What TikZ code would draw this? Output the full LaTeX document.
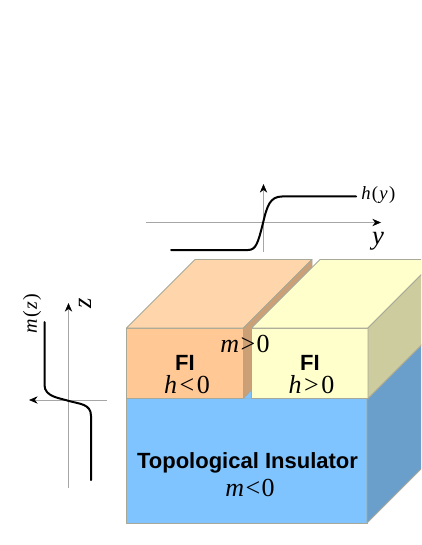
\documentclass[tikz,border=0pt]{standalone}
\usepackage{fontspec}
\setmainfont{Liberation Sans}
\newfontfamily\serifface{Liberation Serif}
\usetikzlibrary{arrows.meta,positioning,calc}
\definecolor{orangefront}{HTML}{FFC894}
\definecolor{orangetop}{HTML}{FFD5AB}
\definecolor{orangeside}{HTML}{CBA077}
\definecolor{yellowfront}{HTML}{FFFFCC}
\definecolor{yellowside}{HTML}{CCCC9F}
\definecolor{blueside}{HTML}{6A9FCB}
\definecolor{bluefront}{HTML}{80C4FF}
\definecolor{edgegray}{HTML}{A8A898}
\newcommand{\mathlabel}[1]{{\fontsize{19.5}{19.5}\selectfont\serifface #1}}
\newcommand{\var}[1]{\textit{#1}}
\begin{document}
\begin{tikzpicture}[
    x=0.75pt, y=-0.75pt,
    face/.style={draw=edgegray, line width=0.6pt, line join=round},
    axishead/.style={-{Stealth[length=6.5pt,width=5.5pt,black]}, draw=black!35, line width=0.5pt},
    profile/.style={black, line width=1.5pt, line cap=round},
    boldlabel/.style={font=\fontsize{16.5}{16.5}\selectfont\bfseries, inner sep=0pt},
    maths/.style={inner sep=0pt},
]
\useasboundingbox (0,0) rectangle (421,545);
\clip (0,0) rectangle (421,545);

% topological insulator
\draw[face, fill=bluefront] (126.5,398.5) rectangle (367,523);
\draw[face, fill=blueside] (367,398.5) -- (435.5,330) -- (435.5,454.5) -- (367,523) -- cycle;
\fill[bluefront] (243.5,398.5) -- (251.5,390) -- (251.5,398.5) -- cycle;

% left block
\draw[face, fill=orangefront] (126.5,328) rectangle (243.5,398.5);
\draw[face, fill=orangetop] (126.5,328) -- (195,259.5) -- (312,259.5) -- (243.5,328) -- cycle;
\draw[face, fill=orangeside] (243.5,328) -- (312,259.5) -- (312,267) -- (251.5,328) -- (251.5,390) -- (243.5,398.5) -- cycle;

% right block
\draw[face, fill=yellowfront] (251.5,328) rectangle (368,398.5);
\draw[face, fill=yellowfront] (251.5,328) -- (320,259.5) -- (436.5,259.5) -- (368,328) -- cycle;
\draw[face, fill=yellowside] (368,328) -- (436.5,259.5) -- (436.5,330) -- (368,398.5) -- cycle;

\node[boldlabel] (fileft) at (185,362.5) {FI};
\node[boldlabel] (firight) at (310,362.5) {FI};
\node[boldlabel] (ti) at (247.5,463) {Topological Insulator};
\node[maths] (hneg) at (187,385) {\mathlabel{\var{h}\kern2pt<\kern2pt0}};
\node[maths] (hpos) at (311.5,385) {\mathlabel{\var{h}\kern2pt>\kern2pt0}};
\node[maths] (mpos) at (245,344) {\mathlabel{\var{m}\kern1pt>\kern1pt0}};
\node[maths] (mneg) at (250,488) {\mathlabel{\var{m}\kern1pt<\kern1pt0}};

% h(y) profile
\coordinate (yleft) at (146,222.5);
\coordinate (yright) at (381,222.5);
\coordinate (hbottom) at (263.5,252);
\coordinate (htop) at (263.5,184);
\draw[axishead] (yleft) -- (yright);
\draw[axishead] (hbottom) -- (htop);
\draw[profile] (171,250) -- (248,250) .. controls (256,250) and (258,243) .. (263,223) .. controls (267,206) and (270,196.5) .. (282,196.5) -- (356,196.5);
\node[maths, anchor=west] (hlabel) at (361,195.5) {{\fontsize{14}{14}\selectfont\serifface\var{h}\kern1pt(\kern1pt\var{y}\kern1pt)}};
\node[maths] (ylabel) at (378,241) {{\fontsize{20}{20}\selectfont\serifface\var{y}}};

% m(z) profile
\coordinate (zbottom) at (68.5,488);
\coordinate (ztop) at (68.5,303);
\coordinate (mright) at (107,400);
\coordinate (mleft) at (29,400);
\draw[axishead] (zbottom) -- (ztop);
\draw[axishead] (mright) -- (mleft);
\draw[profile] (44.5,322) -- (44.5,385) .. controls (44.5,397) and (60,398) .. (69,401) .. controls (80,404) and (91,404) .. (91,416) -- (91,480);
\node[maths, rotate=90] (mlabel) at (32,313.5) {{\fontsize{15}{15}\selectfont\serifface\var{m}\kern1pt(\kern1pt\var{z}\kern1pt)}};
\node[maths, rotate=90] (zlabel) at (85,303) {{\fontsize{20}{20}\selectfont\serifface\var{z}}};
\end{tikzpicture}
\end{document}
